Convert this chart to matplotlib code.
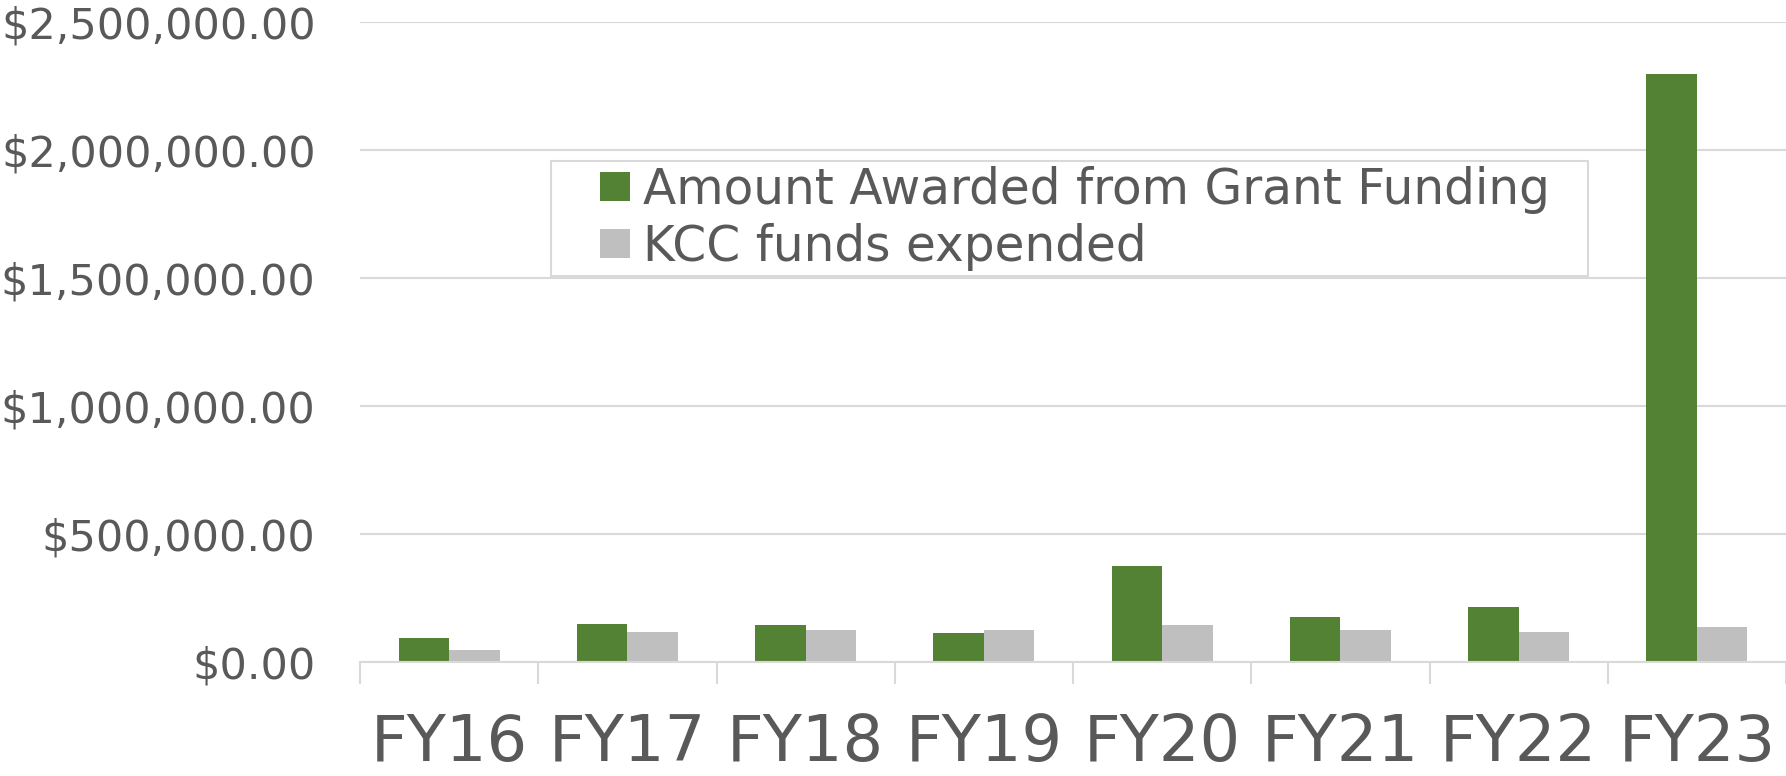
import numpy as np
import matplotlib.pyplot as plt
from matplotlib.ticker import FuncFormatter
from matplotlib.legend_handler import HandlerPatch
from matplotlib.patches import Rectangle
from matplotlib.container import BarContainer
from matplotlib.transforms import IdentityTransform

# ------------------------------------------------------------
# data
# ------------------------------------------------------------
years = ["FY16", "FY17", "FY18", "FY19", "FY20", "FY21", "FY22", "FY23"]
awarded = [92000, 147000, 144500, 113000, 373500, 174500, 213500, 2295000]
kcc_spent = [48000, 118500, 125000, 125000, 143000, 125000, 118500, 135000]

green = "#548235"
grey = "#BFBFBF"
text_col = "#595959"
grid_col = "#D9D9D9"

plt.rcParams["font.family"] = "DejaVu Sans"

fig = plt.figure(figsize=(17.86, 7.76), dpi=100)
ax = fig.add_axes([0.2016, 0.147, 0.7984, 0.825])

x = np.arange(len(years))
w = 0.283
ax.bar(x - w / 2, awarded, w, color=green, label="Amount Awarded from Grant Funding", zorder=3)
ax.bar(x + w / 2, kcc_spent, w, color=grey, label="KCC funds expended", zorder=3)

ax.set_xlim(-0.5, len(years) - 0.5)
ax.set_ylim(0, 2500000)
ax.set_yticks(np.arange(0, 2500001, 500000))
ax.yaxis.set_major_formatter(FuncFormatter(lambda v, p: "${:,.2f}".format(v)))
ax.grid(axis="y", color=grid_col, linewidth=1.5, zorder=0)

# category labels at centres, tick marks at the boundaries
ax.set_xticks(x)
ax.set_xticklabels(years, va="baseline")
ax.set_xticks(np.arange(-0.5, len(years)), minor=True)
ax.tick_params(axis="x", which="major", length=0, pad=71, labelsize=46, labelcolor=text_col)
ax.tick_params(axis="x", which="minor", length=16, width=1.5, color=grid_col)
ax.tick_params(axis="y", length=0, pad=32, labelsize=31, labelcolor=text_col)

for s in ["top", "right", "left"]:
    ax.spines[s].set_visible(False)
ax.spines["bottom"].set_color(grid_col)
ax.spines["bottom"].set_linewidth(1.5)
ax.spines["bottom"].set_zorder(4)


# small square handle sitting at the right end of a wider handle box
def square_right(legend, orig_handle, xdescent, ydescent, width, height, fontsize):
    s = height
    return Rectangle((-xdescent + width - s, -ydescent), s, s,
                     facecolor=orig_handle.patches[0].get_facecolor(), edgecolor="none")


leg = ax.legend(loc="upper left", bbox_to_anchor=(0.1337, 0.7828), borderaxespad=0,
                fontsize=35, frameon=False, handlelength=1.53, handleheight=0.555,
                handletextpad=0.27, labelspacing=0.19, borderpad=0.1,
                handler_map={BarContainer: HandlerPatch(patch_func=square_right,
                                                        update_func=lambda h, o: None)})
for t in leg.get_texts():
    t.set_color(text_col)

# frame drawn by hand so the right side can get more padding than top/bottom
fig.canvas.draw()
bb = leg.get_window_extent()
frame = Rectangle((bb.x0, bb.y0), bb.width + 33, bb.height, transform=IdentityTransform(),
                  fill=False, edgecolor=grid_col, linewidth=1.5, zorder=5)
fig.add_artist(frame)

fig.savefig("out.png", dpi=100)
